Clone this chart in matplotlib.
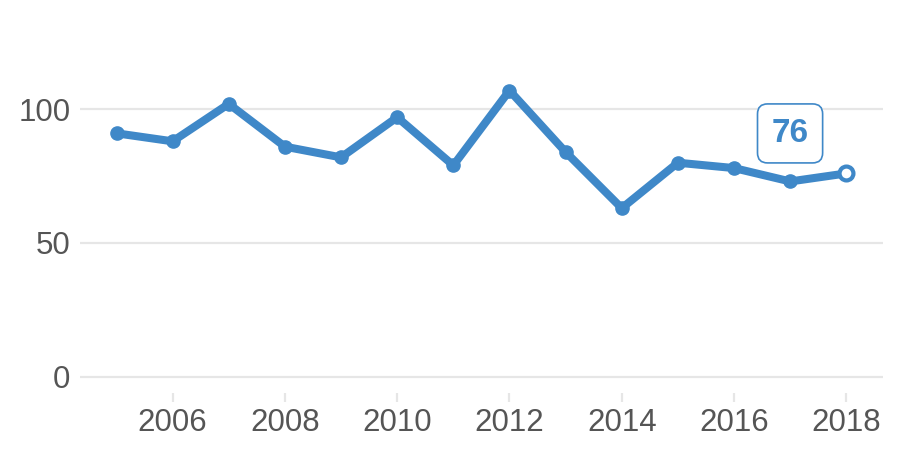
import matplotlib.pyplot as plt

plt.rcParams['font.family'] = ['Liberation Sans', 'DejaVu Sans']

# data
years = [2005, 2006, 2007, 2008, 2009, 2010, 2011, 2012, 2013, 2014, 2015, 2016, 2017, 2018]
values = [91, 88, 102, 86, 82, 97, 79, 107, 84, 63, 80, 78, 73, 76]
x_ticks = [2006, 2008, 2010, 2012, 2014, 2016, 2018]
y_ticks = [0, 50, 100]

blue = '#3f88c8'
grey_text = '#555555'
grid_col = '#e6e6e6'

fig = plt.figure(figsize=(9, 4.5), dpi=100)
ax = fig.add_axes([0.0889, 0.126, 0.892, 0.8096])

ax.plot(years, values, color=blue, linewidth=5.8, marker='o', markersize=9.5,
        solid_capstyle='round', solid_joinstyle='round', clip_on=False, zorder=3)
# last point drawn hollow
ax.plot(years[-1], values[-1], marker='o', markersize=10, markerfacecolor='white',
        markeredgecolor=blue, markeredgewidth=3, clip_on=False, zorder=4)

ax.annotate(str(values[-1]), xy=(years[-1], values[-1]), xytext=(-40.5, 28.8),
            textcoords='offset points', ha='center', va='center',
            fontsize=24, fontweight='bold', color=blue,
            bbox=dict(boxstyle='round,pad=0.42,rounding_size=0.3', fc='white',
                      ec=blue, lw=1.2))

ax.set_xlim(2004.35, 2018.65)
ax.set_ylim(-6.2, 130)
ax.set_xticks(x_ticks)
ax.set_yticks(y_ticks)

for y in y_ticks:
    ax.axhline(y, color=grid_col, linewidth=1.6, zorder=1)

for s in ax.spines.values():
    s.set_visible(False)

ax.tick_params(axis='x', direction='out', length=6.5, width=1.6, color=grid_col,
               labelsize=22.5, labelcolor=grey_text, pad=4)
ax.tick_params(axis='y', length=0, labelsize=22.5, labelcolor=grey_text, pad=7)

fig.savefig('out.png', dpi=100)
